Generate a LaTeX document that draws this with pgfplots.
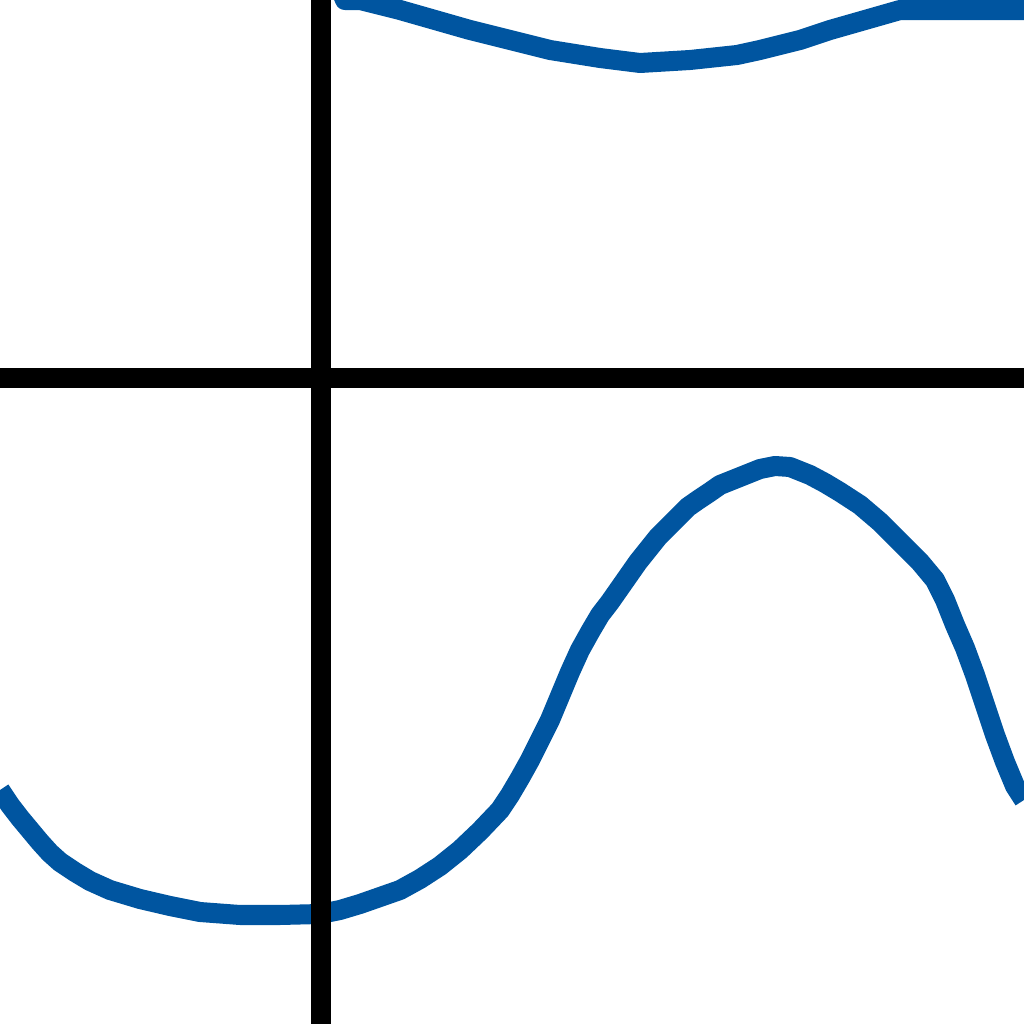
\documentclass[border=0pt]{standalone}
\usepackage{pgfplots}
\pgfplotsset{compat=1.18}
\definecolor{curveblue}{RGB}{0,85,160}
\begin{document}
\begin{tikzpicture}
\begin{axis}[
  scale only axis, width=10cm, height=10cm,
  xmin=-321, xmax=703, ymin=-646, ymax=378,
  axis lines=middle,
  axis line style={line width=5.56pt, black, -},
  xtick=\empty, ytick=\empty,
  axis on top=true,
  clip=true,
]
% lower curve (x = px-321, y = 378-py)
\addplot[curveblue, line width=5.56pt, line join=round] coordinates {
(-321,-412) (-311,-427) (-301,-440) (-291,-452) (-281,-464) (-271,-475)
(-261,-484) (-246,-494) (-231,-503) (-211,-512) (-181,-521) (-151,-528)
(-121,-534) (-81,-537) (-41,-537) (-1,-536) (19,-532) (39,-526)
(59,-519) (79,-512) (99,-501) (119,-488) (139,-472) (159,-453)
(179,-432) (189,-417) (199,-400) (209,-382) (219,-362) (229,-342)
(239,-318) (249,-294) (259,-272) (269,-254) (279,-237) (289,-224)
(303,-204) (317,-184) (337,-159) (347,-149) (357,-139) (367,-129)
(377,-122) (389,-114) (399,-107) (419,-99) (439,-91) (454,-88)
(469,-89) (489,-97) (504,-105) (519,-114) (539,-127) (559,-144)
(579,-164) (599,-184) (614,-202) (624,-222) (634,-247) (644,-270)
(654,-297) (664,-327) (674,-357) (684,-384) (694,-408) (703,-422)
};
% upper curve
\addplot[curveblue, line width=5.56pt, line join=round] coordinates {
(17,395) (24,378) (39,378) (79,368) (114,358) (149,348) (189,338)
(229,328) (279,320) (319,315) (369,318) (416,323) (439,328)
(479,338) (509,348) (544,358) (579,368) (620,368) (703,368)
};
\end{axis}
\pgfresetboundingbox
\useasboundingbox (current axis.south west) rectangle (current axis.north east);
\end{tikzpicture}
\end{document}
